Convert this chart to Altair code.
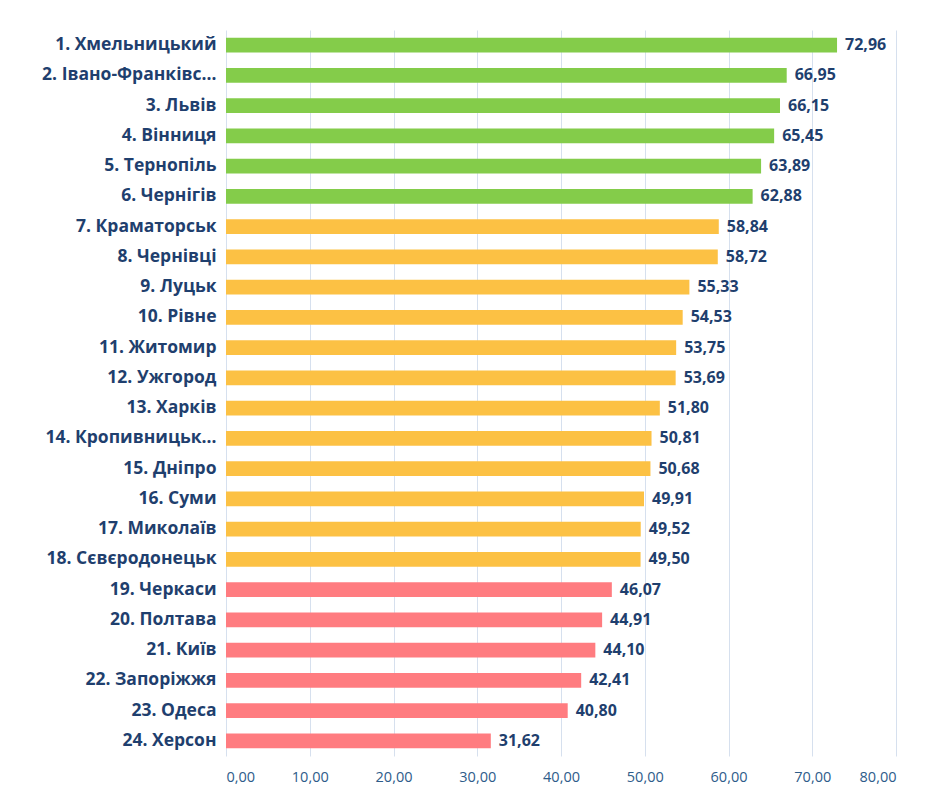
import altair as alt
import pandas as pd

cities = ['1. Хмельницький', '2. Івано-Франківськ', '3. Львів', '4. Вінниця', '5. Тернопіль',
          '6. Чернігів', '7. Краматорськ', '8. Чернівці', '9. Луцьк', '10. Рівне',
          '11. Житомир', '12. Ужгород', '13. Харків', '14. Кропивницький', '15. Дніпро',
          '16. Суми', '17. Миколаїв', '18. Сєвєродонецьк', '19. Черкаси', '20. Полтава',
          '21. Київ', '22. Запоріжжя', '23. Одеса', '24. Херсон']
values = [72.96, 66.95, 66.15, 65.45, 63.89, 62.88, 58.84, 58.72, 55.33, 54.53,
          53.75, 53.69, 51.80, 50.81, 50.68, 49.91, 49.52, 49.50, 46.07, 44.91,
          44.10, 42.41, 40.80, 31.62]
groups = ['high'] * 6 + ['mid'] * 12 + ['low'] * 6

df = pd.DataFrame({'city': cities, 'value': values, 'group': groups})
df['label'] = [f'{v:.2f}'.replace('.', ',') for v in values]

base = alt.Chart(df).encode(
    y=alt.Y('city:N', sort=cities, title=None,
            axis=alt.Axis(ticks=False, domain=False, labelPadding=10, labelFontSize=17.5,
                          labelFont='Open Sans', labelFontWeight='bold', labelColor='#1f3f6e'),
            scale=alt.Scale(paddingInner=0.52, paddingOuter=0.26)),
    x=alt.X('value:Q', title=None, scale=alt.Scale(domain=[0, 80]),
            axis=alt.Axis(values=list(range(0, 81, 10)), labelExpr="replace(format(datum.value, '.2f'), '.', ',')",
                          ticks=False, domain=False, gridColor='#d6e0ee', labelPadding=14,
                          labelFontSize=14.5, labelFont='Open Sans', labelColor='#2e5c8a')),
)

bars = base.mark_bar().encode(
    color=alt.Color('group:N', legend=None,
                    scale=alt.Scale(domain=['high', 'mid', 'low'], range=['#84cc4a', '#fcc144', '#ff7c80']))
)
text = base.mark_text(align='left', dx=8, font='Open Sans', fontWeight='bold',
                      fontSize=16, color='#1f3f6e').encode(text='label:N')

chart = (bars + text).properties(
    width=670, height=726,
    autosize=alt.AutoSizeParams(type='none'),
    padding={'left': 218, 'top': 22, 'right': 20, 'bottom': 50},
).configure_view(stroke=None)

chart.save("out.html", embed_options={"renderer": "svg", "actions": False})
